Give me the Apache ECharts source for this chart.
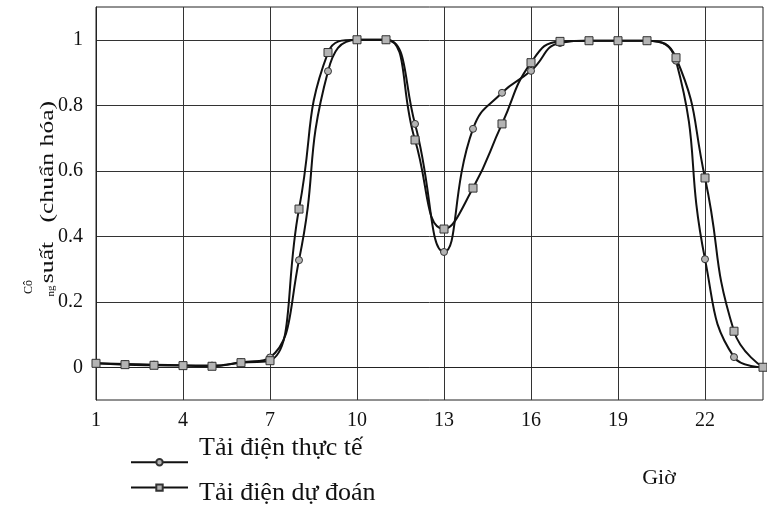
<!DOCTYPE html>
<html>
<head>
<meta charset="utf-8">
<script src="https://cdn.jsdelivr.net/npm/echarts@6/dist/echarts.min.js"></script>
<style>html,body{margin:0;padding:0;background:#fff}#c{width:767px;height:507px}</style>
</head>
<body>
<div id="c"></div>
<script>
const hours = ['1','2','3','4','5','6','7','8','9','10','11','12','13','14','15','16','17','18','19','20','21','22','23','24'];
const actualLoad = [0.012, 0.01, 0.008, 0.006, 0.005, 0.015, 0.03, 0.327, 0.904, 1.0, 1.0, 0.743, 0.352, 0.728, 0.838, 0.905, 0.99, 0.997, 0.997, 0.997, 0.936, 0.330, 0.031, 0.0];
const forecastLoad = [0.012, 0.008, 0.006, 0.005, 0.003, 0.014, 0.02, 0.483, 0.961, 1.0, 1.0, 0.694, 0.422, 0.547, 0.743, 0.93, 0.995, 0.997, 0.997, 0.997, 0.945, 0.578, 0.110, 0.0];
const yTicks = [0, 0.2, 0.4, 0.6, 0.8, 1];
const seriesNames = ['Tải điện thực tế', 'Tải điện dự đoán'];
const xTitle = 'Giờ';
const yTitle = 'suất   (chuẩn hóa)';

const FONT = 'Liberation Serif';
const textLegend = (name, top) => ({
  data: [name], orient: 'vertical', left: 193, top: top, itemWidth: 0, itemHeight: 0,
  selectedMode: false, icon: 'rect', padding: 0,
  itemStyle: {opacity: 0}, lineStyle: {opacity: 0},
  textStyle: {fontFamily: FONT, fontSize: 26, color: '#111'}
});
const chart = echarts.init(document.getElementById('c'), null, {renderer: 'canvas'});
chart.setOption({
  animation: false,
  backgroundColor: '#fff',
  textStyle: {fontFamily: FONT},
  grid: {left: 96, right: 4, top: 7, bottom: 107, show: true, borderColor: '#222', borderWidth: 1},
  xAxis: {
    type: 'category', data: hours, boundaryGap: false,
    axisLine: {lineStyle: {color: '#222'}},
    axisTick: {show: false},
    axisLabel: {interval: 2, fontFamily: FONT, fontSize: 20, color: '#111', margin: 11},
    splitLine: {show: true, interval: 2, lineStyle: {color: '#333', width: 1}}
  },
  yAxis: {
    type: 'value', min: -0.1, max: 1.1,
    axisLine: {show: true, lineStyle: {color: '#222'}},
    axisTick: {show: false, customValues: yTicks},
    axisLabel: {customValues: yTicks, fontFamily: FONT, fontSize: 20, color: '#111', margin: 13,
      formatter: v => String(Math.round(v * 10) / 10)},
    splitLine: {show: true, lineStyle: {color: '#333', width: 1}}
  },
  legend: [{
    data: seriesNames, orient: 'vertical', left: 125, top: 453, itemWidth: 57, itemHeight: 8, itemGap: 17,
    formatter: () => '', selectedMode: false
  }, textLegend(seriesNames[0], 435), textLegend(seriesNames[1], 480)],
  graphic: [
    {type: 'text', x: 48, y: 192, rotation: Math.PI / 2, scaleX: 1.35,
      style: {text: yTitle, font: '19px "Liberation Serif"', fill: '#111', align: 'center', verticalAlign: 'middle'}},
    {type: 'text', x: 51, y: 291, rotation: Math.PI / 2,
      style: {text: 'ng', font: '11px "Liberation Serif"', fill: '#111', align: 'center', verticalAlign: 'middle'}},
    {type: 'text', x: 29, y: 287, rotation: Math.PI / 2,
      style: {text: 'Cô', font: '12px "Liberation Serif"', fill: '#111', align: 'center', verticalAlign: 'middle'}},
    {type: 'text', x: 659, y: 478,
      style: {text: xTitle, font: '22px "Liberation Serif"', fill: '#111', align: 'center', verticalAlign: 'middle'}}
  ],
  series: [{
    name: seriesNames[0], type: 'line', data: actualLoad, smooth: 0.5,
    symbol: 'circle', symbolSize: 7, showAllSymbol: true,
    lineStyle: {color: '#111', width: 2},
    itemStyle: {color: '#b4b4b4', borderColor: '#333', borderWidth: 1}
  }, {
    name: seriesNames[1], type: 'line', data: forecastLoad, smooth: 0.5,
    symbol: 'rect', symbolSize: 8, showAllSymbol: true,
    lineStyle: {color: '#111', width: 2},
    itemStyle: {color: '#b4b4b4', borderColor: '#333', borderWidth: 1}
  }]
});
</script>
</body>
</html>
